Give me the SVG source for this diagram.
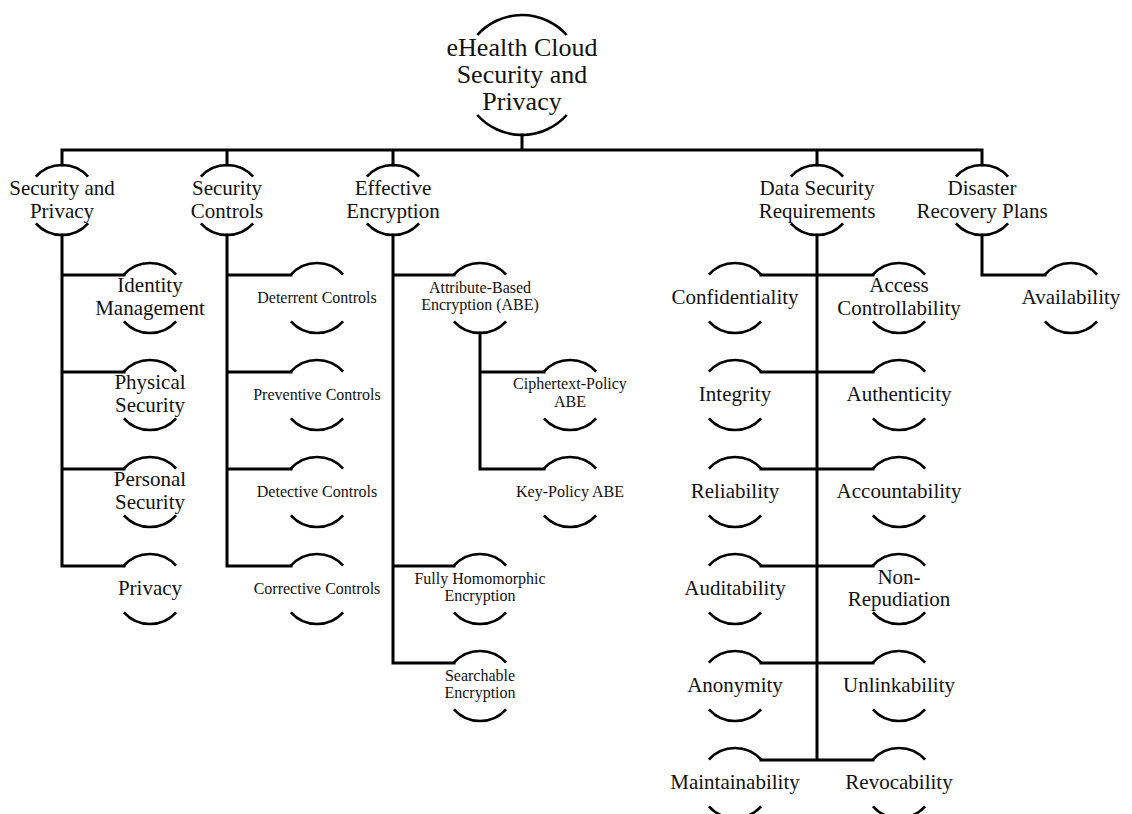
<svg xmlns="http://www.w3.org/2000/svg" width="1132" height="814" viewBox="0 0 1132 814">
<style>
  .arc { fill: none; stroke: #000; stroke-width: 2.6; }
  .con { fill: none; stroke: #000; stroke-width: 3; stroke-linecap: square; }
  .lbl text { fill: #111; text-anchor: middle; }
  .t27 { font-size: 26px; }
  .t21 { font-size: 21px; }
  .t16 { font-size: 16px; }
</style>
<defs>
  <path id="n35" class="arc" d="M-26.1,-23.3 A35,35 0 0 1 26.1,-23.3 M-26.1,23.3 A35,35 0 0 0 26.1,23.3"/>
  <path id="n60" class="arc" d="M-44.7,-40 A60,60 0 0 1 44.7,-40 M-44.7,40 A60,60 0 0 0 44.7,40"/>
</defs>
<rect width="1132" height="814" fill="#fff"/>

<g id="connectors">
  <path class="con" d="M522,135 V150 M62,150 H982 M62,150 V165 M227,150 V165 M393,150 V165 M817,150 V165 M982,150 V165"/>
  <path class="con" d="M62,235 V566 M62,275 H124 M62,372 H124 M62,469 H124 M62,566 H124"/>
  <path class="con" d="M227,235 V566 M227,275 H291 M227,372 H291 M227,469 H291 M227,566 H291"/>
  <path class="con" d="M393,235 V663 M393,275 H454 M393,566 H454 M393,663 H454"/>
  <path class="con" d="M480,333 V469 M480,372 H544 M480,469 H544"/>
  <path class="con" d="M817,235 V760 M761,275 H873 M761,372 H873 M761,469 H873 M761,566 H873 M761,663 H873 M761,760 H873"/>
  <path class="con" d="M982,235 V275 H1045"/>
</g>

<g class="lbl" font-family="'Liberation Serif', 'Times New Roman', 'DejaVu Serif', serif">
<g id="root"><use href="#n60" x="522" y="75"/>
  <text class="t27" x="522" y="56">eHealth Cloud</text>
  <text class="t27" x="522" y="83">Security and</text>
  <text class="t27" x="522" y="110">Privacy</text></g>

<g id="security-privacy"><use href="#n35" x="62" y="200"/>
  <text class="t21" x="62" y="195">Security and</text><text class="t21" x="62" y="218">Privacy</text></g>
<g id="security-controls"><use href="#n35" x="227" y="200"/>
  <text class="t21" x="227" y="195">Security</text><text class="t21" x="227" y="218">Controls</text></g>
<g id="effective-encryption"><use href="#n35" x="393" y="200"/>
  <text class="t21" x="393" y="195">Effective</text><text class="t21" x="393" y="218">Encryption</text></g>
<g id="data-security-requirements"><use href="#n35" x="817" y="200"/>
  <text class="t21" x="817" y="195">Data Security</text><text class="t21" x="817" y="218">Requirements</text></g>
<g id="disaster-recovery-plans"><use href="#n35" x="982" y="200"/>
  <text class="t21" x="982" y="195">Disaster</text><text class="t21" x="982" y="218">Recovery Plans</text></g>

<g id="identity-management"><use href="#n35" x="150" y="298"/>
  <text class="t21" x="150" y="292">Identity</text><text class="t21" x="150" y="315">Management</text></g>
<g id="physical-security"><use href="#n35" x="150" y="395"/>
  <text class="t21" x="150" y="389">Physical</text><text class="t21" x="150" y="412">Security</text></g>
<g id="personal-security"><use href="#n35" x="150" y="492"/>
  <text class="t21" x="150" y="486">Personal</text><text class="t21" x="150" y="509">Security</text></g>
<g id="privacy"><use href="#n35" x="150" y="589"/>
  <text class="t21" x="150" y="595">Privacy</text></g>

<g id="deterrent-controls"><use href="#n35" x="317" y="298"/>
  <text class="t16" x="317" y="303">Deterrent Controls</text></g>
<g id="preventive-controls"><use href="#n35" x="317" y="395"/>
  <text class="t16" x="317" y="400">Preventive Controls</text></g>
<g id="detective-controls"><use href="#n35" x="317" y="492"/>
  <text class="t16" x="317" y="497">Detective Controls</text></g>
<g id="corrective-controls"><use href="#n35" x="317" y="589"/>
  <text class="t16" x="317" y="594">Corrective Controls</text></g>

<g id="abe"><use href="#n35" x="480" y="298"/>
  <text class="t16" x="480" y="293">Attribute-Based</text><text class="t16" x="480" y="310">Encryption (ABE)</text></g>
<g id="cp-abe"><use href="#n35" x="570" y="395"/>
  <text class="t16" x="570" y="389">Ciphertext-Policy</text><text class="t16" x="570" y="407">ABE</text></g>
<g id="kp-abe"><use href="#n35" x="570" y="492"/>
  <text class="t16" x="570" y="497">Key-Policy ABE</text></g>
<g id="fhe"><use href="#n35" x="480" y="589"/>
  <text class="t16" x="480" y="584">Fully Homomorphic</text><text class="t16" x="480" y="601">Encryption</text></g>
<g id="searchable-encryption"><use href="#n35" x="480" y="686"/>
  <text class="t16" x="480" y="681">Searchable</text><text class="t16" x="480" y="698">Encryption</text></g>

<g id="confidentiality"><use href="#n35" x="735" y="298"/>
  <text class="t21" x="735" y="304">Confidentiality</text></g>
<g id="integrity"><use href="#n35" x="735" y="395"/>
  <text class="t21" x="735" y="401">Integrity</text></g>
<g id="reliability"><use href="#n35" x="735" y="492"/>
  <text class="t21" x="735" y="498">Reliability</text></g>
<g id="auditability"><use href="#n35" x="735" y="589"/>
  <text class="t21" x="735" y="595">Auditability</text></g>
<g id="anonymity"><use href="#n35" x="735" y="686"/>
  <text class="t21" x="735" y="692">Anonymity</text></g>
<g id="maintainability"><use href="#n35" x="735" y="783"/>
  <text class="t21" x="735" y="789">Maintainability</text></g>

<g id="access-controllability"><use href="#n35" x="899" y="298"/>
  <text class="t21" x="899" y="292">Access</text><text class="t21" x="899" y="315">Controllability</text></g>
<g id="authenticity"><use href="#n35" x="899" y="395"/>
  <text class="t21" x="899" y="401">Authenticity</text></g>
<g id="accountability"><use href="#n35" x="899" y="492"/>
  <text class="t21" x="899" y="498">Accountability</text></g>
<g id="non-repudiation"><use href="#n35" x="899" y="589"/>
  <text class="t21" x="899" y="584">Non-</text><text class="t21" x="899" y="606">Repudiation</text></g>
<g id="unlinkability"><use href="#n35" x="899" y="686"/>
  <text class="t21" x="899" y="692">Unlinkability</text></g>
<g id="revocability"><use href="#n35" x="899" y="783"/>
  <text class="t21" x="899" y="789">Revocability</text></g>

<g id="availability"><use href="#n35" x="1071" y="298"/>
  <text class="t21" x="1071" y="304">Availability</text></g>
</g>
</svg>
